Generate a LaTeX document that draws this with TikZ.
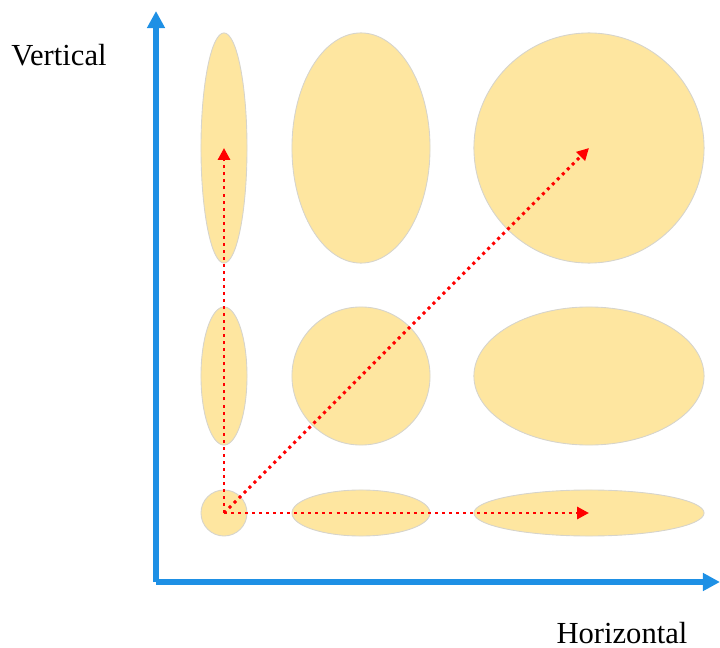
\documentclass[tikz,border=0pt]{standalone}
\usepackage{fontspec}
\setmainfont{Liberation Serif}
\usetikzlibrary{arrows.meta,positioning,shapes.geometric}
\definecolor{axisblue}{RGB}{30,144,229}
\definecolor{blobfill}{RGB}{254,230,160}
\definecolor{blobline}{RGB}{214,212,204}

\tikzset{
  blob/.style={ellipse,draw=blobline,line width=0.25pt,fill=blobfill,inner sep=0pt},
  axisline/.style={line width=1.5pt,axisblue,-{Triangle[length=0.17cm,width=0.17cm]}},
  dotarrow/.style={red,line width=0.85pt,dash pattern=on 0.85pt off 1.15pt,-{Triangle[length=3.4pt,width=3.4pt]}},
  axislabel/.style={font=\fontsize{8.7}{10}\selectfont}
}

\begin{document}
\begin{tikzpicture}[x=0.01cm,y=-0.01cm]
\useasboundingbox (0,0) rectangle (720,648);
% ellipse grid: columns widen, rows flatten
\foreach \col/\cx/\rx in {1/224/23,2/361/69,3/589/115}{\foreach \row/\cy/\ry in {1/148/115,2/376/69,3/513/23}{\node[blob,minimum width={\rx*0.02cm},minimum height={\ry*0.02cm}] (e\col\row) at (\cx,\cy) {};}}
\coordinate (origin) at (156,582);
\coordinate (ytip) at (156,11);
\coordinate (xtip) at (720,582);
\draw[axisline] (origin) -- (ytip);
\draw[axisline] (origin) -- (xtip);
\node[axislabel] (vlab) at (59,55) {Vertical};
\node[axislabel] (hlab) at (622,633) {Horizontal};
\draw[dotarrow] (e13.center) -- (e11.center);
\draw[dotarrow] (e13.center) -- (e33.center);
\draw[dotarrow] (e13.center) -- (e31.center);
\end{tikzpicture}
\end{document}
